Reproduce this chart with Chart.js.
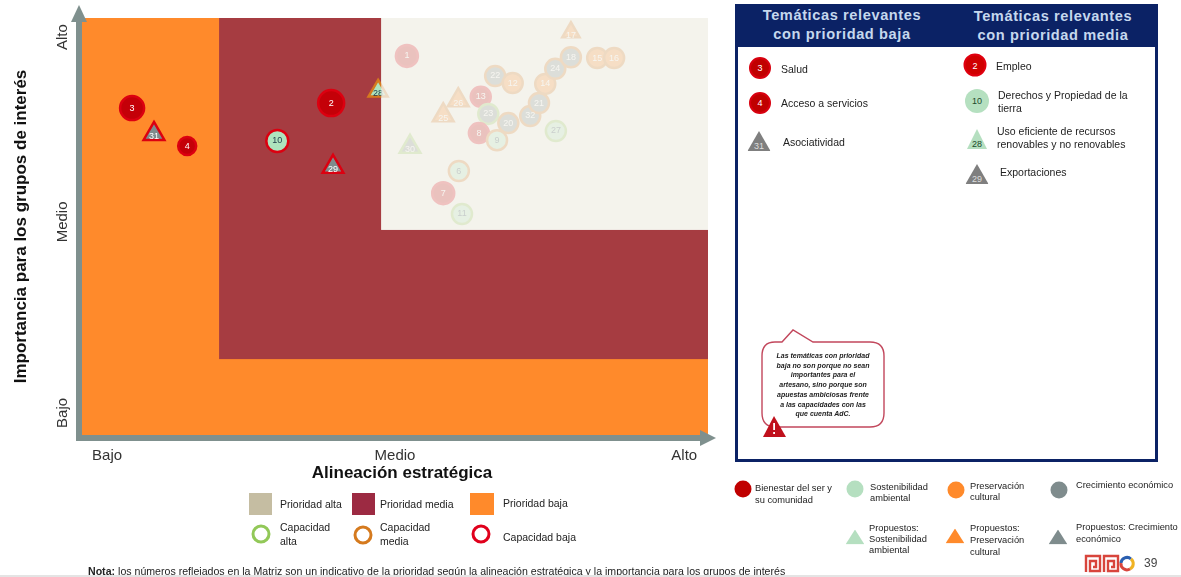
<!DOCTYPE html>
<html lang="es">
  <head>
    <meta charset="UTF-8">
    <title>Matriz de priorización</title>
    <script src="https://cdn.jsdelivr.net/npm/chart.js"></script>
    <style>
      html, body {
        margin: 0;
        padding: 0;
        background: #fff;
        overflow: hidden;
      }

      body {
        width: 1181px;
        height: 577px;
        position: relative;
        font-family: "Liberation Sans", Arial, sans-serif;
        color: #222;
      }

      #matriz {
        position: absolute;
        left: 0;
        top: 0;
      }

      /* Absolute text line, vertically centred on its top value */
      .t {
        position: absolute;
        white-space: nowrap;
        transform: translateY(-50%);
        font-size: 10.5px;
        line-height: 1;
      }

      .s {
        font-size: 9.3px;
      }

      .c,
      .tri {
        position: absolute;
        transform: translate(-50%, -50%);
        display: flex;
        align-items: center;
        justify-content: center;
        color: #fff;
        font-size: 9px;
      }

      .c {
        border-radius: 50%;
        box-sizing: border-box;
      }

      .tri {
        clip-path: polygon(50% 0, 100% 100%, 0 100%);
        align-items: flex-end;
      }

      .swatch {
        position: absolute;
      }

      #panel {
        position: absolute;
        left: 735px;
        top: 4px;
        width: 423px;
        height: 458px;
        box-sizing: border-box;
        border: 3px solid #0b2265;
      }

      #panel .head {
        position: absolute;
        left: -3px;
        top: -3px;
        width: 423px;
        height: 43px;
        background: #0b2265;
      }

      .head-title {
        position: absolute;
        width: 210px;
        text-align: center;
        color: #c5d8ee;
        font-weight: bold;
        font-size: 14.6px;
        line-height: 19px;
        letter-spacing: 0.6px;
      }

      #aviso {
        position: absolute;
        left: 755px;
        top: 325px;
      }

      #aviso-texto {
        position: absolute;
        left: 762px;
        top: 351px;
        width: 122px;
        text-align: center;
        font-size: 7px;
        line-height: 9.7px;
        font-weight: bold;
        font-style: italic;
        color: #222;
      }

      #logo {
        position: absolute;
        left: 1083px;
        top: 553px;
      }

      #nota {
        position: absolute;
        left: 88px;
        top: 571px;
        font-size: 10.6px;
        white-space: nowrap;
        transform: translateY(-50%);
      }

      #pie {
        position: absolute;
        left: 0;
        top: 575px;
        width: 1181px;
        height: 2px;
        background: #e4e4e4;
      }
    </style>
  </head>
  <body>
    <canvas id="matriz" width="1181" height="577"></canvas>

    <div id="panel"><div class="head"></div></div>
    <div class="head-title" style="left:737px;top:6px">Temáticas relevantes<br>con prioridad baja</div>
    <div class="head-title" style="left:948px;top:7px">Temáticas relevantes<br>con prioridad media</div>

    <!-- Prioridad baja -->
    <div class="c" style="left:760px;top:68px;width:22px;height:22px;background:#c00000;border:2px solid #d8000f">3</div>
    <div class="t" style="left:781px;top:69px">Salud</div>
    <div class="c" style="left:760px;top:103px;width:22px;height:22px;background:#c00000;border:2px solid #d8000f">4</div>
    <div class="t" style="left:781px;top:103px">Acceso a servicios</div>
    <div class="tri" style="left:759px;top:141px;width:23px;height:20px;background:#7f7f7f;color:#ddd">31</div>
    <div class="t" style="left:783px;top:142px">Asociatividad</div>

    <!-- Prioridad media -->
    <div class="c" style="left:975px;top:65px;width:23px;height:23px;background:#d00000;border:2px solid #e0000f">2</div>
    <div class="t" style="left:996px;top:66px">Empleo</div>
    <div class="c" style="left:977px;top:101px;width:24px;height:24px;background:#b5e0c0;color:#1d4a2c">10</div>
    <div class="t" style="left:998px;top:95px">Derechos y Propiedad de la</div>
    <div class="t" style="left:998px;top:108px">tierra</div>
    <div class="tri" style="left:977px;top:139px;width:20px;height:20px;background:#b5dfc0;color:#1d4a2c">28</div>
    <div class="t" style="left:997px;top:131px">Uso eficiente de recursos</div>
    <div class="t" style="left:997px;top:144px">renovables y no renovables</div>
    <div class="tri" style="left:977px;top:174px;width:23px;height:20px;background:#7f7f7f;color:#ddd">29</div>
    <div class="t" style="left:1000px;top:172px">Exportaciones</div>

    <!-- Nube de aviso -->
    <svg id="aviso" width="140" height="115" viewBox="0 0 140 115">
      <path d="M20 17 L27 17 L38 5 L58 17 L115 17 Q129 17 129 31 L129 88 Q129 102 115 102 L21 102 Q7 102 7 88 L7 31 Q7 17 20 17 Z" fill="#fff" stroke="#c2475c" stroke-width="1.4"/>
      <path d="M19 91 L31 112 L8 112 Z" fill="#c0101c"/>
      <rect x="18.2" y="98" width="1.8" height="7" fill="#fff"/>
      <rect x="18.2" y="107" width="1.8" height="2" fill="#fff"/>
    </svg>
    <div id="aviso-texto">Las temáticas con prioridad<br>baja no son porque no sean<br>importantes para el<br>artesano, sino porque son<br>apuestas ambiciosas frente<br>a las capacidades con las<br>que cuenta AdC.</div>

    <!-- Leyenda de prioridad y capacidad -->
    <div class="swatch" style="left:249px;top:493px;width:23px;height:22px;background:#c5bda2"></div>
    <div class="t" style="left:280px;top:504px">Prioridad alta</div>
    <div class="swatch" style="left:352px;top:493px;width:23px;height:22px;background:#9c2a42"></div>
    <div class="t" style="left:380px;top:504px">Prioridad media</div>
    <div class="swatch" style="left:470px;top:493px;width:24px;height:22px;background:#ff8a2b"></div>
    <div class="t" style="left:503px;top:503px">Prioridad baja</div>
    <div class="c" style="left:261px;top:534px;width:19px;height:19px;border:3px solid #92c858"></div>
    <div class="t" style="left:280px;top:527px">Capacidad</div>
    <div class="t" style="left:280px;top:541px">alta</div>
    <div class="c" style="left:363px;top:535px;width:19px;height:19px;border:3px solid #d57a1e"></div>
    <div class="t" style="left:380px;top:527px">Capacidad</div>
    <div class="t" style="left:380px;top:541px">media</div>
    <div class="c" style="left:481px;top:534px;width:19px;height:19px;border:3px solid #e0001c"></div>
    <div class="t" style="left:503px;top:537px">Capacidad baja</div>

    <!-- Leyenda de ejes tematicos -->
    <div class="c" style="left:743px;top:489px;width:17px;height:17px;background:#c00000"></div>
    <div class="t s" style="left:755px;top:489px">Bienestar del ser y</div>
    <div class="t s" style="left:755px;top:501px">su comunidad</div>
    <div class="c" style="left:855px;top:489px;width:17px;height:17px;background:#b5dfc0"></div>
    <div class="t s" style="left:870px;top:488px">Sostenibilidad</div>
    <div class="t s" style="left:870px;top:499px">ambiental</div>
    <div class="c" style="left:956px;top:490px;width:17px;height:17px;background:#ff8a2b"></div>
    <div class="t s" style="left:970px;top:487px">Preservación</div>
    <div class="t s" style="left:970px;top:498px">cultural</div>
    <div class="c" style="left:1059px;top:490px;width:17px;height:17px;background:#7f8c8d"></div>
    <div class="t s" style="left:1076px;top:486px">Crecimiento económico</div>

    <div class="tri" style="left:855px;top:537px;width:19px;height:15px;background:#b5dfc0"></div>
    <div class="t s" style="left:869px;top:529px">Propuestos:</div>
    <div class="t s" style="left:869px;top:540px">Sostenibilidad</div>
    <div class="t s" style="left:869px;top:551px">ambiental</div>
    <div class="tri" style="left:955px;top:536px;width:19px;height:15px;background:#ff8a2b"></div>
    <div class="t s" style="left:970px;top:529px">Propuestos:</div>
    <div class="t s" style="left:970px;top:541px">Preservación</div>
    <div class="t s" style="left:970px;top:553px">cultural</div>
    <div class="tri" style="left:1058px;top:537px;width:19px;height:15px;background:#7f8c8d"></div>
    <div class="t s" style="left:1076px;top:528px">Propuestos: Crecimiento</div>
    <div class="t s" style="left:1076px;top:540px">económico</div>

    <svg id="logo" width="54" height="21" viewBox="0 0 54 21">
      <g fill="none" stroke="#d8453c" stroke-width="2.4">
        <path d="M3 19 V3 H17 V18 H7 V8 H13 V14 H10"/>
        <path d="M21 19 V3 H35 V18 H25 V8 H31 V14 H28"/>
      </g>
      <g fill="none" stroke-width="3">
        <path d="M38 10 A6 6 0 0 1 48 6" stroke="#2b5fb0"/>
        <path d="M48 6 A6 6 0 0 1 47 16" stroke="#f0b323"/>
        <path d="M47 16 A6 6 0 0 1 38 10" stroke="#d8453c"/>
      </g>
    </svg>
    <div class="t" style="left:1144px;top:563px;font-size:12px;color:#444">39</div>

    <div id="nota"><b>Nota:</b> los números reflejados en la Matriz son un indicativo de la prioridad según la alineación estratégica y la importancia para los grupos de interés</div>
    <div id="pie"></div>

    <script>
      // Tematicas: alineacion estrategica (x) e importancia (y), escala 0-100
      const temaId = ['3', '31', '4', '2', '10', '29', '28', '1', '22', '12', '26', '13', '25', '23', '20', '8', '9', '32', '21', '14', '24', '18', '17', '15', '16', '27', '30', '6', '7', '11'];
      const alineacion = [8.0, 11.5, 16.8, 39.8, 31.2, 40.1, 47.3, 51.9, 66.0, 68.8, 60.1, 63.7, 57.7, 64.9, 68.1, 63.4, 66.3, 71.6, 73.0, 74.0, 75.6, 78.1, 78.1, 82.3, 85.0, 75.7, 52.4, 60.2, 57.7, 60.7];
      const importancia = [78.4, 72.2, 69.3, 79.6, 70.5, 64.3, 82.5, 90.9, 86.1, 84.4, 80.3, 81.1, 76.7, 77.0, 74.8, 72.4, 70.7, 76.5, 79.6, 84.2, 87.8, 90.6, 96.6, 90.4, 90.4, 72.9, 69.1, 63.3, 58.0, 53.0];
      const eje = ['bienestar', 'crecimiento', 'bienestar', 'bienestar', 'sostenibilidad', 'crecimiento', 'sostenibilidad', 'bienestar', 'crecimiento', 'preservacion', 'preservacion', 'bienestar', 'preservacion', 'crecimiento', 'crecimiento', 'bienestar', 'sostenibilidad', 'crecimiento', 'crecimiento', 'preservacion', 'crecimiento', 'crecimiento', 'preservacion', 'preservacion', 'preservacion', 'sostenibilidad', 'crecimiento', 'sostenibilidad', 'bienestar', 'sostenibilidad'];
      const propuesto = ['31', '29', '28', '26', '25', '17', '30'];
      const capacidad = ['baja', 'baja', 'baja', 'baja', 'baja', 'baja', 'media', 'baja', 'media', 'media', 'media', 'baja', 'media', 'alta', 'media', 'baja', 'media', 'media', 'media', 'media', 'media', 'media', 'media', 'media', 'media', 'alta', 'alta', 'media', 'baja', 'alta'];

      // Zonas de prioridad: desde donde empieza cada una en cada eje
      const zonaMediaDesde = [21.9, 18.2];
      const zonaAltaDesde = [47.8, 49.2];

      const ejeTicks = [4, 50, 96.2];
      const ejeLabels = ['Bajo', 'Medio', 'Alto'];
      const ejeYTicks = [5.3, 51.1, 95.4];

      const colorEje = { bienestar: '#c40008', crecimiento: '#7f8c8d', sostenibilidad: '#aee3bd', preservacion: '#ff8a2b' };
      const colorCapacidad = { alta: '#92c858', media: '#d57a1e', baja: '#dc0010' };
      const tamano = { '3': 12, '31': 12, '4': 9, '2': 13, '10': 11, '29': 12, '1': 11, '7': 11, '26': 12, '25': 12, '30': 12, '28': 11 };
      const GREY = '#7f908e';
      const FONT = '"Liberation Sans", Arial, sans-serif';

      const puntos = temaId.map((id, i) => ({ x: alineacion[i], y: importancia[i] }));

      // Fondos de prioridad, se dibujan antes que los puntos
      const zonas = {
        id: 'zonas',
        beforeDatasetsDraw(chart) {
          const { ctx, chartArea: a, scales: { x, y } } = chart;
          ctx.save();
          ctx.fillStyle = '#ff8a2b';
          ctx.fillRect(a.left, a.top, a.width, a.height);
          const mx = x.getPixelForValue(zonaMediaDesde[0]);
          const my = y.getPixelForValue(zonaMediaDesde[1]);
          ctx.fillStyle = '#a63c41';
          ctx.fillRect(mx, a.top, a.right - mx, my - a.top);
          const ax = x.getPixelForValue(zonaAltaDesde[0]);
          const ay = y.getPixelForValue(zonaAltaDesde[1]);
          ctx.fillStyle = '#f4f2ec';
          ctx.fillRect(ax, a.top, a.right - ax, ay - a.top);
          ctx.restore();
        },
        // Numeros de los puntos y velo encima de la prioridad alta
        afterDatasetsDraw(chart) {
          const { ctx, chartArea: a, scales: { x, y } } = chart;
          ctx.save();
          ctx.font = '9px ' + FONT;
          ctx.textAlign = 'center';
          ctx.textBaseline = 'middle';
          chart.getDatasetMeta(0).data.forEach((el, i) => {
            const tri = propuesto.includes(temaId[i]);
            ctx.fillStyle = eje[i] === 'sostenibilidad' ? '#1d3a4a' : '#fff';
            ctx.fillText(temaId[i], el.x, el.y + (tri ? 3 : 0));
          });
          const ax = x.getPixelForValue(zonaAltaDesde[0]);
          const ay = y.getPixelForValue(zonaAltaDesde[1]);
          ctx.globalAlpha = 0.8;
          ctx.fillStyle = '#f4f2ec';
          ctx.fillRect(ax, a.top, a.right - ax, ay - a.top);
          ctx.restore();
        },
        // Flechas de los ejes y textos que la escala no rota
        afterDraw(chart) {
          const { ctx, chartArea: a, scales: { y } } = chart;
          ctx.save();
          ctx.fillStyle = GREY;
          ctx.fillRect(a.left - 6, 20, 6, a.bottom - 20 + 6);
          ctx.beginPath();
          ctx.moveTo(a.left - 3, 5);
          ctx.lineTo(a.left + 5, 22);
          ctx.lineTo(a.left - 11, 22);
          ctx.fill();
          ctx.fillRect(a.left - 6, a.bottom, a.width + 6, 6);
          ctx.beginPath();
          ctx.moveTo(716, a.bottom + 3);
          ctx.lineTo(700, a.bottom - 5);
          ctx.lineTo(700, a.bottom + 11);
          ctx.fill();

          ctx.fillStyle = '#333';
          ctx.font = '15px ' + FONT;
          ctx.textAlign = 'center';
          ctx.textBaseline = 'middle';
          ejeYTicks.forEach((v, i) => {
            ctx.save();
            ctx.translate(63, y.getPixelForValue(v));
            ctx.rotate(-Math.PI / 2);
            ctx.fillText(ejeLabels[i], 0, 0);
            ctx.restore();
          });
          ctx.fillStyle = '#111';
          ctx.font = 'bold 17px ' + FONT;
          ctx.fillText('Alineación estratégica', 402, 473);
          ctx.restore();
        }
      };

      new Chart(document.getElementById('matriz').getContext('2d'), {
        type: 'scatter',
        data: {
          datasets: [{
            label: 'Temáticas',
            data: puntos,
            clip: false,
            pointStyle: temaId.map(id => propuesto.includes(id) ? 'triangle' : 'circle'),
            pointRadius: temaId.map(id => tamano[id] || 10),
            pointHoverRadius: temaId.map(id => tamano[id] || 10),
            pointBorderWidth: 2.5,
            pointBackgroundColor: eje.map(e => colorEje[e]),
            pointBorderColor: capacidad.map(c => colorCapacidad[c])
          }]
        },
        options: {
          responsive: false,
          animation: false,
          layout: { padding: { top: 18, right: 473, bottom: 0, left: 0 } },
          plugins: { legend: { display: false }, tooltip: { enabled: false } },
          scales: {
            x: {
              type: 'linear',
              min: 0,
              max: 100,
              grid: { display: false },
              border: { display: false },
              afterFit(scale) { scale.height = 142; },
              afterBuildTicks(scale) { scale.ticks = ejeTicks.map(v => ({ value: v })); },
              ticks: {
                autoSkip: false,
                maxRotation: 0,
                padding: 4,
                color: '#333',
                font: { family: FONT, size: 15 },
                callback: (v, i) => ejeLabels[i]
              }
            },
            y: {
              type: 'linear',
              min: 0,
              max: 100,
              grid: { display: false },
              border: { display: false },
              afterFit(scale) { scale.width = 82; },
              ticks: { display: false },
              title: {
                display: true,
                text: 'Importancia para los grupos de interés',
                color: '#111',
                padding: { top: 11, bottom: 0 },
                font: { family: FONT, size: 17, weight: 'bold' }
              }
            }
          }
        },
        plugins: [zonas]
      });
    </script>
  </body>
</html>
